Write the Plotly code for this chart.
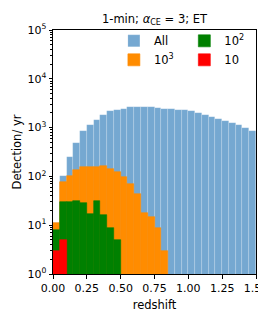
import numpy as np
import plotly.graph_objects as go

bin_width = 0.05
bin_left = np.round(np.arange(0, 1.5, bin_width), 3)

all_counts = [11, 102, 250, 490, 845, 1130, 1450, 1780, 2150, 2300,
              2460, 2680, 2680, 2680, 2680, 2580, 2460, 2400, 2330, 2250,
              2150, 1990, 1830, 1670, 1520, 1380, 1260, 1150, 1000, 870]
snr1000 = [11, 78, 102, 138, 157, 157, 157, 162, 144, 124,
           98, 70, 43, 18, 14.8, 8.8, 3.0]
snr100 = [7.9, 30.6, 30, 31, 28, 17, 32, 16, 8.8, 5.0]
snr10 = [3.0, 5.0]

series = [
    ("All", all_counts, "#75a8d1", "legend"),
    ("10<sup>3</sup>", snr1000, "#ff8c00", "legend"),
    ("10<sup>2</sup>", snr100, "#008000", "legend2"),
    ("10", snr10, "#ff0000", "legend2"),
]

fig = go.Figure()
for name, vals, color, lg in series:
    n = len(vals)
    fig.add_trace(go.Bar(
        x=bin_left[:n] + bin_width / 2, y=vals, width=bin_width,
        name=name, marker=dict(color=color,
                               line=dict(color="rgba(255,255,255,0.25)" if name == "All" else color, width=0.6)),
        legend=lg,
    ))

font = "DejaVu Sans"
minor_vals = [k * 10 ** d for d in range(5) for k in range(2, 10)]
fig.update_layout(
    width=266, height=316,
    margin=dict(l=45, r=6, t=22, b=49.5),
    paper_bgcolor="white", plot_bgcolor="white",
    barmode="overlay", bargap=0,
    font=dict(family=font, size=11, color="black"),
    title=dict(text="1-min; <i>α</i><sub>CE</sub> = 3; ET", x=0.5, xref="paper",
               y=1 - 11 / 316, yanchor="middle", font=dict(size=11.5)),
    legend=dict(x=0.30, y=1.015, xanchor="left", yanchor="top", bgcolor="rgba(0,0,0,0)",
                font=dict(size=11.5), itemwidth=30, tracegroupgap=0),
    legend2=dict(x=0.647, y=1.015, xanchor="left", yanchor="top", bgcolor="rgba(0,0,0,0)",
                 font=dict(size=11.5), itemwidth=30, tracegroupgap=0),
    xaxis=dict(range=[0, 1.5], tickvals=[0, 0.25, 0.5, 0.75, 1.0, 1.25, 1.5],
               ticktext=["0.00", "0.25", "0.50", "0.75", "1.00", "1.25", "1.50"],
               ticklabeloverflow="allow",
               ticks="outside", ticklen=3.5, tickcolor="black", showline=True, linecolor="black",
               linewidth=1, mirror=True, showgrid=False, zeroline=False,
               title=dict(text="redshift", standoff=7, font=dict(size=11.5))),
    yaxis=dict(type="log", range=[0, 5], tickvals=[1, 10, 100, 1000, 1e4, 1e5],
               ticktext=["10<sup>0</sup>", "10<sup>1</sup>", "10<sup>2</sup>", "10<sup>3</sup>",
                         "10<sup>4</sup>", "10<sup>5</sup>"],
               ticks="outside", ticklen=3.5, tickcolor="black", showline=True, linecolor="black",
               linewidth=1, mirror=True, showgrid=False, zeroline=False,
               minor=dict(tickvals=minor_vals, ticks="outside", ticklen=2, tickcolor="black", showgrid=False),
               title=dict(text="Detection/ yr", standoff=3, font=dict(size=11.5))),
)
fig.write_html("out.html")
